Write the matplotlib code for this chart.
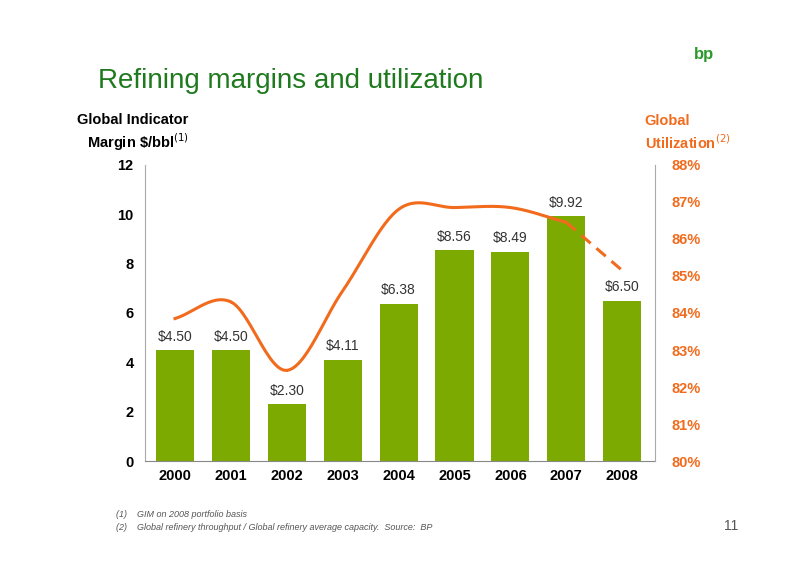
import matplotlib
matplotlib.use("Agg")
import matplotlib.pyplot as plt
import numpy as np

plt.rcParams['font.family'] = ['Liberation Sans', 'DejaVu Sans']

years = ["2000","2001","2002","2003","2004","2005","2006","2007","2008"]
margins = [4.50, 4.50, 2.30, 4.11, 6.38, 8.56, 8.49, 9.92, 6.50]
utilization = [83.85, 84.3, 82.45, 84.6, 86.8, 86.85, 86.85, 86.45, 85.15]

green = "#7daa00"
orange = "#f26b1d"
title_green = "#1f7a1f"

def catmull(xs, ys, n=30):
    xs = np.asarray(xs, float); ys = np.asarray(ys, float)
    px = np.concatenate([[2*xs[0]-xs[1]], xs, [2*xs[-1]-xs[-2]]])
    py = np.concatenate([[2*ys[0]-ys[1]], ys, [2*ys[-1]-ys[-2]]])
    ox, oy = [], []
    for i in range(1, len(px)-2):
        t = np.linspace(0, 1, n)
        for P, out in ((px, ox), (py, oy)):
            p0, p1, p2, p3 = P[i-1], P[i], P[i+1], P[i+2]
            out.extend(0.5*((2*p1) + (-p0+p2)*t + (2*p0-5*p1+4*p2-p3)*t**2 + (-p0+3*p1-3*p2+p3)*t**3))
    return np.array(ox), np.array(oy)

fig = plt.figure(figsize=(8, 5.66), dpi=100)
ax = fig.add_axes([0.181, 0.1855, 0.638, 0.523])
x = np.arange(len(years))
ax.bar(x, margins, width=0.68, color=green)
for xi, v in zip(x, margins):
    ax.text(xi, v + 0.25, f"${v:.2f}".replace("$", r"\$"), ha="center", va="bottom", fontsize=10, color="#333333")
ax.set_ylim(0, 12)
ax.set_xlim(-0.54, 8.59)
ax.set_xticks(x)
ax.set_xticklabels(years, fontsize=10.5, fontweight="bold")
ax.set_yticks(range(0, 13, 2))
ax.tick_params(axis="y", labelsize=10.5, length=0, pad=8)
for lab in ax.get_yticklabels():
    lab.set_fontweight("bold")
ax.tick_params(axis="x", length=0, pad=6)
for s in ["top", "right"]:
    ax.spines[s].set_visible(False)
ax.spines["left"].set_color("#aaaaaa")
ax.spines["bottom"].set_color("#888888")

ax2 = ax.twinx()
ax2.set_ylim(80, 88)
ax2.set_yticks(range(80, 89))
ax2.set_yticklabels([f"{v}%" for v in range(80, 89)], color=orange, fontsize=10.5, fontweight="bold")
ax2.tick_params(axis="y", length=0, pad=12)
for s in ["top", "left", "bottom"]:
    ax2.spines[s].set_visible(False)
ax2.spines["right"].set_color("#aaaaaa")
sx, sy = catmull(x[:8], utilization[:8])
ax2.plot(sx, sy, color=orange, lw=2.2)
ax2.plot(x[7:], utilization[7:], color=orange, lw=2.2, ls=(0, (4, 2.5)))

fig.text(0.122, 0.845, "Refining margins and utilization", fontsize=20, color=title_green)
fig.text(0.236, 0.765, "Global Indicator\nMargin \\$/bbl$^{(1)}$", fontsize=10.5, fontweight="bold", ha="right", va="center", linespacing=1.3)
fig.text(0.806, 0.765, "Global\nUtilization$^{(2)}$", fontsize=10.5, fontweight="bold", color=orange, ha="left", va="center", linespacing=1.3)
fig.text(0.88, 0.895, "bp", fontsize=12, fontweight="bold", color="#2a9a2a", ha="center")
fig.text(0.145, 0.087, "(1)    GIM on 2008 portfolio basis", fontsize=6.5, style="italic", color="#555555")
fig.text(0.145, 0.063, "(2)    Global refinery throughput / Global refinery average capacity.  Source:  BP", fontsize=6.5, style="italic", color="#555555")
fig.text(0.905, 0.063, "11", fontsize=10, color="#555555")
fig.savefig("out.png", dpi=100)
